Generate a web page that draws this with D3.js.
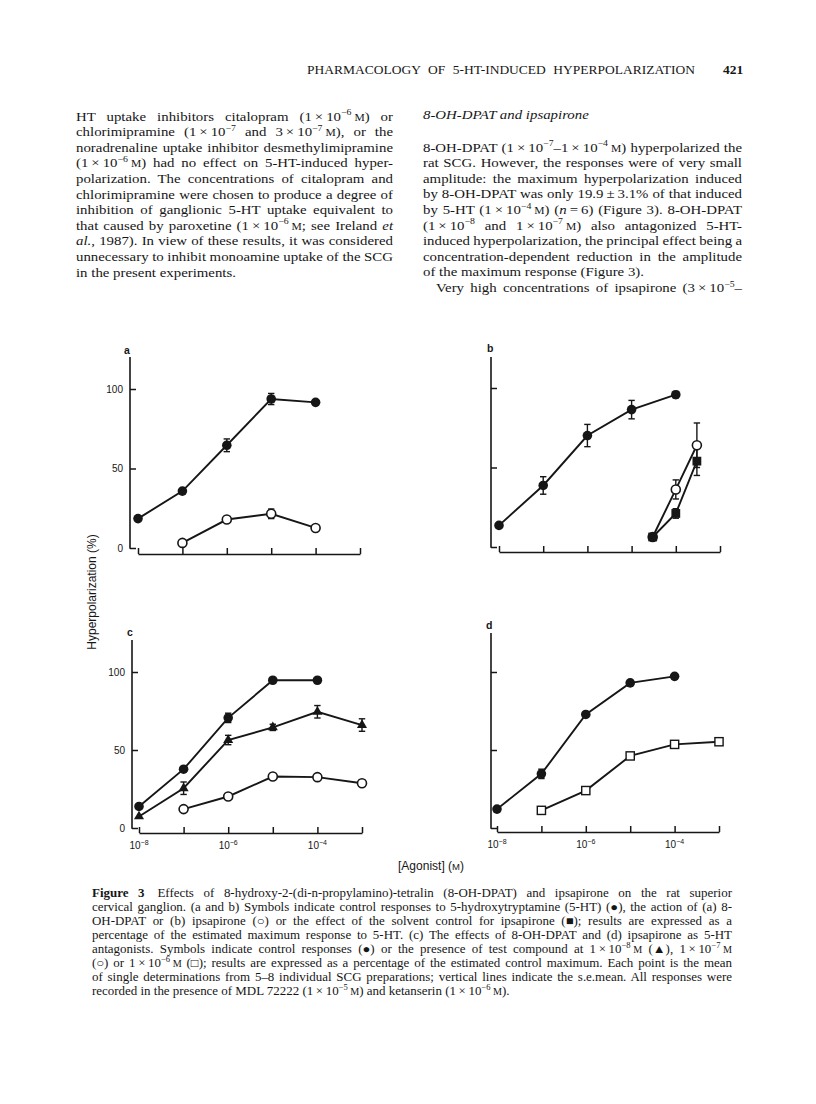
<!DOCTYPE html>
<html><head><meta charset="utf-8">
<script src="https://cdn.jsdelivr.net/npm/d3@7"></script>
<style>body{margin:0;background:#fff} svg{display:block}</style>
</head><body>
<svg id="page" width="816" height="1104"></svg>
<script>
// ---------------- DATA ----------------
const concDecades = [1e-8, 1e-7, 1e-6, 1e-5, 1e-4, 1e-3];
const concCtrl = [1e-8, 1e-7, 1e-6, 1e-5, 1e-4];
const concTest = [1e-7, 1e-6, 1e-5, 1e-4, 1e-3];
const concTri = [1e-8, 1e-7, 1e-6, 1e-5, 1e-4, 1e-3];
const concIps = [3e-5, 1e-4, 3e-4];
const concDpatA = [1e-7, 1e-6, 1e-5, 1e-4];
const yTickValues = [0, 50, 100];
const xTickLabelValues = [1e-8, 1e-6, 1e-4];
const xTickLabelExps = ["\u22128", "\u22126", "\u22124"];

// panel a
const a5HT = [18.5, 35.8, 64.6, 93.7, 91.6];
const a5HTErr = [0, 0, 4, 3.5, 0];
const aDpat = [3.2, 17.9, 21.5, 12.6];
const aDpatErr = [0, 0, 3, 2];
// panel b
const b5HT = [13.6, 38.7, 70.1, 86.4, 95.8];
const b5HTErr = [0, 5.5, 7, 5.8, 2];
const bIps = [6.3, 36.2, 64];
const bIpsErr = [0, 6, 14];
const bSolvent = [6.3, 21.1, 54];
const bSolventErr = [2, 3, 9];
// panel c
const cControl = [13.8, 37.7, 70.6, 94.7, 94.7];
const cControlErr = [0, 0, 3, 0, 0];
const cDpat1e8 = [7.4, 25.5, 56.4, 64.5, 74.5, 66];
const cDpat1e8Err = [0, 4, 3, 2, 4, 4];
const cDpat1e7 = [12.1, 20.2, 33, 32.6, 28.7];
const cDpat1e7Err = [0, 0, 1.5, 2, 2];
// panel d
const dControl = [12.1, 34.7, 72.8, 93, 97.2];
const dControlErr = [0, 3, 0, 0, 0];
const dIps1e6 = [11.3, 24, 46.2, 53.6, 55.3];
const dIps1e6Err = [0, 0, 0, 0, 0];

// ---------------- TEXT ----------------
const T = "\u2009";
const X = "\u2009\u00d7\u2009";
const headerText = "PHARMACOLOGY OF 5-HT-INDUCED HYPERPOLARIZATION";
const pageNumber = "421";
const leftLines = [
  `HT uptake inhibitors citalopram (1${X}10^[\u22126]${T}#M) or`,
  `chlorimipramine (1${X}10^[\u22127] and 3${X}10^[\u22127]${T}#M), or the`,
  `noradrenaline uptake inhibitor desmethylimipramine`,
  `(1${X}10^[\u22126]${T}#M) had no effect on 5-HT-induced hyper-`,
  `polarization. The concentrations of citalopram and`,
  `chlorimipramine were chosen to produce a degree of`,
  `inhibition of ganglionic 5-HT uptake equivalent to`,
  `that caused by paroxetine (1${X}10^[\u22126]${T}#M; see Ireland ~[et]`,
  `~[al.], 1987). In view of these results, it was considered`,
  `unnecessary to inhibit monoamine uptake of the SCG`,
  `in the present experiments.`
];
const rightHeading = "~[8-OH-DPAT and ipsapirone]";
const rightLines = [
  `8-OH-DPAT (1${X}10^[\u22127]\u20131${X}10^[\u22124]${T}#M) hyperpolarized the`,
  `rat SCG. However, the responses were of very small`,
  `amplitude: the maximum hyperpolarization induced`,
  `by 8-OH-DPAT was only 19.9${T}\u00b1${T}3.1% of that induced`,
  `by 5-HT (1${X}10^[\u22124]${T}#M) (~[n]${T}=${T}6) (Figure 3). 8-OH-DPAT`,
  `(1${X}10^[\u22128] and 1${X}10^[\u22127]${T}#M) also antagonized 5-HT-`,
  `induced hyperpolarization, the principal effect being a`,
  `concentration-dependent reduction in the amplitude`,
  `of the maximum response (Figure 3).`,
  `Very high concentrations of ipsapirone (3${X}10^[\u22125]\u2013`
];
const captionLines = [
  `*[Figure 3]\u2003Effects of 8-hydroxy-2-(di-n-propylamino)-tetralin (8-OH-DPAT) and ipsapirone on the rat superior`,
  `cervical ganglion. (a and b) Symbols indicate control responses to 5-hydroxytryptamine (5-HT) (\u25cf), the action of (a) 8-`,
  `OH-DPAT or (b) ipsapirone (\u25cb) or the effect of the solvent control for ipsapirone (\u25a0); results are expressed as a`,
  `percentage of the estimated maximum response to 5-HT. (c) The effects of 8-OH-DPAT and (d) ipsapirone as 5-HT`,
  `antagonists. Symbols indicate control responses (\u25cf) or the presence of test compound at 1${X}10^[\u22128]${T}#M (\u25b2), 1${X}10^[\u22127]${T}#M`,
  `(\u25cb) or 1${X}10^[\u22126]${T}#M (\u25a1); results are expressed as a percentage of the estimated control maximum. Each point is the mean`,
  `of single determinations from 5\u20138 individual SCG preparations; vertical lines indicate the s.e.mean. All responses were`,
  `recorded in the presence of MDL 72222 (1${X}10^[\u22125]${T}#M) and ketanserin (1${X}10^[\u22126]${T}#M).`
];
const yAxisTitle = "Hyperpolarization (%)";

// ---------------- DRAWING ----------------
const SERIF = "'Liberation Serif','Times New Roman',serif";
const SANS = "'Liberation Sans',Arial,Helvetica,sans-serif";
const INK = "#161616";
const svg = d3.select("#page");
svg.append("rect").attr("width", 816).attr("height", 1104).attr("fill", "#fff");

function addRich(sel, markup, fs) {
  const re = /(\^\[[^\]]*\]|~\[[^\]]*\]|\*\[[^\]]*\]|#M)/g;
  const parts = markup.split(re).filter(s => s !== "");
  let shifted = false;
  parts.forEach(p => {
    if (p.startsWith("^[")) {
      sel.append("tspan").attr("dy", -fs * 0.4).attr("font-size", fs * 0.66).text(p.slice(2, -1));
      shifted = true;
    } else {
      const ts = sel.append("tspan");
      if (shifted) { ts.attr("dy", fs * 0.4); shifted = false; }
      if (p.startsWith("~[")) ts.attr("font-style", "italic").text(p.slice(2, -1));
      else if (p.startsWith("*[")) ts.attr("font-weight", "bold").text(p.slice(2, -1));
      else if (p === "#M") ts.attr("font-size", fs * 0.78).text("M");
      else ts.text(p);
    }
  });
}

function textLine(parent, x, y, width, markup, fs, family, sx) {
  const g = parent.append("g").attr("transform", `translate(${x},${y}) scale(${sx},1)`);
  const t = g.append("text").attr("x", 0).attr("y", 0)
    .attr("font-family", family).attr("font-size", fs).attr("fill", INK);
  addRich(t, markup, fs);
  if (width) {
    const target = width / sx;
    const w = t.node().getComputedTextLength();
    const n = (t.text().match(/ /g) || []).length;
    if (n > 0) {
      let ws = (target - w) / n;
      if (ws < -1) ws = -1;
      t.attr("word-spacing", ws);
      const w2 = t.node().getComputedTextLength();
      if (w2 > target + 0.5) t.attr("textLength", target).attr("lengthAdjust", "spacingAndGlyphs");
    }
  }
  return t;
}

const BODY_FS = 13.5, BODY_SX = 1.1, LEAD = 15.6;
const tg = svg.append("g");
textLine(tg, 307, 73.5, 388, headerText, 12.5, SERIF, 1.08);
textLine(tg, 723, 73.5, null, `*[${pageNumber}]`, 12.5, SERIF, 1.08);

leftLines.forEach((l, i) => {
  const last = i === leftLines.length - 1;
  textLine(tg, 76, 120.5 + i * LEAD, last ? null : 317, l, BODY_FS, SERIF, BODY_SX);
});
textLine(tg, 423, 119, null, rightHeading, BODY_FS, SERIF, BODY_SX);
rightLines.forEach((l, i) => {
  const last = i === rightLines.length - 1;
  const x0 = last ? 436 : 423;
  const w = i === 8 ? null : (742 - x0);
  textLine(tg, x0, 151.5 + i * LEAD, w, l, BODY_FS, SERIF, BODY_SX);
});

captionLines.forEach((l, i) => {
  const last = i === captionLines.length - 1;
  textLine(tg, 92, 897 + i * 14, last ? null : 640, l, 12, SERIF, 1.08);
});

const markerDefs = {
  filledCircle: (sel) => sel.append("circle").attr("r", 4.8).attr("fill", INK),
  openCircle: (sel) => sel.append("circle").attr("r", 4.5).attr("fill", "#fff").attr("stroke", INK).attr("stroke-width", 1.6),
  filledSquare: (sel) => sel.append("rect").attr("x", -4.4).attr("y", -4.4).attr("width", 8.8).attr("height", 8.8).attr("fill", INK),
  openSquare: (sel) => sel.append("rect").attr("x", -4.1).attr("y", -4.1).attr("width", 8.2).attr("height", 8.2).attr("fill", "#fff").attr("stroke", INK).attr("stroke-width", 1.4),
  filledTriangle: (sel) => sel.append("path").attr("d", d3.symbol(d3.symbolTriangle, 44)()).attr("fill", INK)
};

const panels = [
  { id: "a", x0: 138, x1: 360, axisX: 130, y0: 548, y100: 389, yTop: 357, xAxisY: 554, lab: [124, 354], yLabels: true, xLabels: false,
    series: [
      { conc: concCtrl, values: a5HT, err: a5HTErr, marker: "filledCircle" },
      { conc: concDpatA, values: aDpat, err: aDpatErr, marker: "openCircle" } ] },
  { id: "b", x0: 499, x1: 720, axisX: 491, y0: 547, y100: 388, yTop: 357, xAxisY: 552, lab: [487, 352], yLabels: false, xLabels: false,
    series: [
      { conc: concCtrl, values: b5HT, err: b5HTErr, marker: "filledCircle" },
      { conc: concIps, values: bIps, err: bIpsErr, marker: "openCircle" },
      { conc: concIps, values: bSolvent, err: bSolventErr, marker: "filledSquare" } ] },
  { id: "c", x0: 139, x1: 362, axisX: 132, y0: 828, y100: 672, yTop: 640, xAxisY: 833, lab: [127, 636], yLabels: true, xLabels: true,
    series: [
      { conc: concCtrl, values: cControl, err: cControlErr, marker: "filledCircle" },
      { conc: concTri, values: cDpat1e8, err: cDpat1e8Err, marker: "filledTriangle" },
      { conc: concTest, values: cDpat1e7, err: cDpat1e7Err, marker: "openCircle" } ] },
  { id: "d", x0: 497, x1: 719, axisX: 491, y0: 828, y100: 672, yTop: 633, xAxisY: 832, lab: [486, 629], yLabels: false, xLabels: true,
    series: [
      { conc: concCtrl, values: dControl, err: dControlErr, marker: "filledCircle" },
      { conc: concTest, values: dIps1e6, err: dIps1e6Err, marker: "openSquare" } ] }
];

panels.forEach(p => {
  const g = svg.append("g");
  const x = d3.scaleLog().domain([1e-8, 1e-3]).range([p.x0, p.x1]);
  const y = d3.scaleLinear().domain([0, 100]).range([p.y0, p.y100]);

  g.append("line").attr("x1", p.axisX).attr("x2", p.axisX).attr("y1", p.yTop).attr("y2", p.y0 + 0.8)
    .attr("stroke", INK).attr("stroke-width", 1.6);
  const yAx = d3.axisLeft(y).tickValues(yTickValues).tickSize(-6).tickPadding(7)
    .tickFormat(p.yLabels ? d3.format("d") : () => "");
  const yg = g.append("g").attr("transform", `translate(${p.axisX},0)`).call(yAx);
  yg.select(".domain").remove();
  yg.selectAll(".tick line").attr("stroke", INK).attr("stroke-width", 1.5);
  yg.selectAll(".tick text").attr("font-family", SANS).attr("font-size", 10).attr("fill", INK);

  const xAx = d3.axisBottom(x).tickValues(concDecades).tickSize(-6).tickSizeOuter(0).tickFormat(() => "");
  const xg = g.append("g").attr("transform", `translate(0,${p.xAxisY})`).call(xAx);
  xg.select(".domain").attr("stroke", INK).attr("stroke-width", 1.6);
  xg.selectAll(".tick line").attr("stroke", INK).attr("stroke-width", 1.5);
  if (p.xLabels) {
    xTickLabelValues.forEach((v, i) => {
      const t = g.append("text").attr("x", x(v)).attr("y", p.xAxisY + 16).attr("text-anchor", "middle")
        .attr("font-family", SANS).attr("font-size", 10).attr("fill", INK);
      t.append("tspan").text("10");
      t.append("tspan").attr("dy", -4).attr("font-size", 7).text(xTickLabelExps[i]);
    });
  }
  g.append("text").attr("x", p.lab[0]).attr("y", p.lab[1]).attr("font-family", SANS).attr("font-size", 10.5)
    .attr("font-weight", "bold").attr("fill", INK).text(p.id);

  p.series.forEach(s => {
    const pts = s.conc.map((c, i) => ({ c, v: s.values[i] }));
    g.append("path").datum(pts)
      .attr("d", d3.line().x(d => x(d.c)).y(d => y(d.v)))
      .attr("fill", "none").attr("stroke", INK).attr("stroke-width", 1.9);
  });
  p.series.forEach(s => {
    const pts = s.conc.map((c, i) => ({ c, v: s.values[i], e: s.err[i] })).filter(d => d.e > 0);
    const eg = g.append("g").attr("stroke", INK).attr("stroke-width", 1.4);
    pts.forEach(d => {
      const cx = x(d.c), yl = y(d.v - d.e), yh = y(d.v + d.e);
      eg.append("line").attr("x1", cx).attr("x2", cx).attr("y1", yl).attr("y2", yh);
      eg.append("line").attr("x1", cx - 3.2).attr("x2", cx + 3.2).attr("y1", yl).attr("y2", yl);
      eg.append("line").attr("x1", cx - 3.2).attr("x2", cx + 3.2).attr("y1", yh).attr("y2", yh);
    });
  });
  p.series.forEach(s => {
    s.conc.forEach((c, i) => {
      const mg = g.append("g").attr("transform", `translate(${x(c)},${y(s.values[i])})`);
      markerDefs[s.marker](mg);
    });
  });
});

svg.append("text").attr("transform", "translate(96,592) rotate(-90)").attr("text-anchor", "middle")
  .attr("font-family", SANS).attr("font-size", 12).attr("fill", INK).text(yAxisTitle);
const xt = svg.append("text").attr("x", 431).attr("y", 870).attr("text-anchor", "middle")
  .attr("font-family", SANS).attr("font-size", 12).attr("fill", INK);
xt.append("tspan").text("[Agonist] (");
xt.append("tspan").attr("font-size", 9.5).text("M");
xt.append("tspan").text(")");
</script>
</body></html>
